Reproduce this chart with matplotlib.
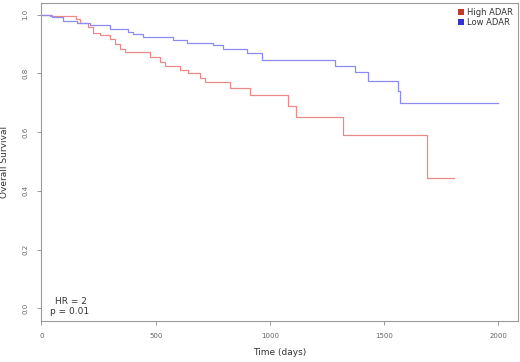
import matplotlib
matplotlib.use("Agg")
import matplotlib.pyplot as plt
from matplotlib.patches import Patch

# Kaplan-Meier step data (time in days, survival probability)
high_t = [0, 46, 151, 168, 203, 225, 256, 300, 322, 344, 365, 475, 519, 540, 606,
          641, 694, 716, 825, 912, 1079, 1114, 1319, 1687, 1805]
high_s = [1.0, 0.995, 0.987, 0.972, 0.958, 0.939, 0.932, 0.919, 0.902, 0.885, 0.873,
          0.856, 0.839, 0.825, 0.811, 0.800, 0.785, 0.771, 0.749, 0.726, 0.689, 0.652,
          0.592, 0.445, 0.445]

low_t = [0, 37, 46, 94, 155, 212, 300, 379, 400, 444, 575, 637, 751, 794, 899, 965,
         1284, 1372, 1429, 1560, 1570, 1998]
low_s = [1.0, 0.995, 0.992, 0.979, 0.972, 0.964, 0.950, 0.941, 0.933, 0.924, 0.913,
         0.904, 0.896, 0.882, 0.871, 0.845, 0.826, 0.805, 0.775, 0.740, 0.699, 0.699]

x_ticks = [0, 500, 1000, 1500, 2000]
y_ticks = [0.0, 0.2, 0.4, 0.6, 0.8, 1.0]
y_tick_labels = ["0.0", "0.2", "0.4", "0.6", "0.8", "1.0"]
series_names = ["High ADAR", "Low ADAR"]

fig = plt.figure(figsize=(5.2, 3.62), dpi=100)
ax = fig.add_axes([0.0788, 0.1133, 0.9172, 0.8784])

ax.step(high_t, high_s, where="post", color="#e88a8a", lw=0.9)
ax.step(low_t, low_s, where="post", color="#8c8cf0", lw=0.9)

ax.set_xlim(-2, 2085)
ax.set_ylim(-0.043, 1.04)
ax.set_xticks(x_ticks)
ax.set_xticklabels([str(v) for v in x_ticks])
ax.set_yticks(y_ticks)
ax.set_yticklabels(y_tick_labels, rotation=90, va="center")
ax.tick_params(axis="both", direction="out", length=3, width=0.6, colors="#888888",
               labelsize=5, labelcolor="#666666", pad=6)

for sp in ax.spines.values():
    sp.set_color("#9a9a9a")
    sp.set_linewidth(0.8)

ax.set_xlabel("Time (days)", fontsize=6.5, color="#333333", labelpad=6)
ax.set_ylabel("Overall Survival", fontsize=6.5, color="#333333", labelpad=10)

ax.text(130, 0.025, "HR = 2", ha="center", va="center", fontsize=6.5, color="#333333")
ax.text(125, -0.012, "p = 0.01", ha="center", va="center", fontsize=6.5, color="#333333")

handles = [Patch(facecolor="#c0392b", edgecolor="none"),
           Patch(facecolor="#3333cc", edgecolor="none")]
ax.legend(handles, series_names, loc="upper right", frameon=False, fontsize=6,
          handlelength=0.7, handleheight=0.7, handletextpad=0.4, labelspacing=0.15,
          borderaxespad=0.2, labelcolor="#333333")

fig.savefig("out.png", dpi=100)
